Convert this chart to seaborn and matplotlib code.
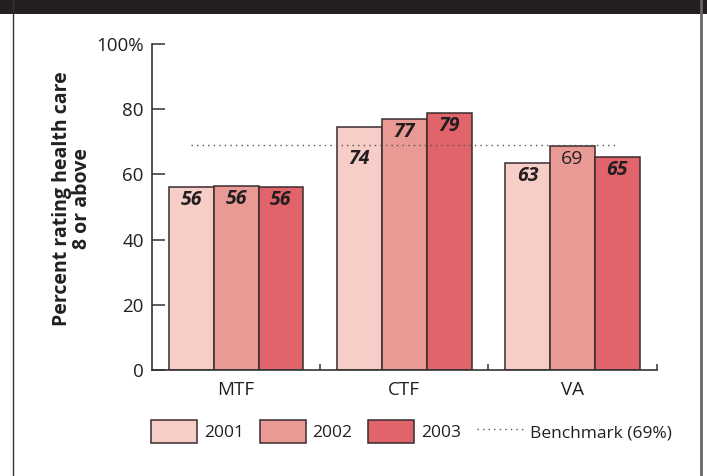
import pandas as pd
import matplotlib
matplotlib.use('Agg')
import matplotlib.pyplot as plt
from matplotlib.patches import Rectangle, Patch
from matplotlib.lines import Line2D
from matplotlib.ticker import FixedLocator
import seaborn as sns

# Datos
categorias = ['MTF', 'CTF', 'VA']
anios = ['2001', '2002', '2003']
valores_2001 = [56.1, 74.4, 63.4]
valores_2002 = [56.4, 76.9, 68.8]
valores_2003 = [56.1, 78.7, 65.4]
# etiqueta en negrita/cursiva = diferencia significativa frente al benchmark
signif_2001 = [True, True, True]
signif_2002 = [True, True, False]
signif_2003 = [True, True, True]
benchmark = 69
y_ticks = [0, 20, 40, 60, 80, 100]
y_tick_labels = ['0', '20', '40', '60', '80', '100%']

colores = ['#F6CEC7', '#EA9A95', '#E0646A']
borde = '#3a2c2e'
texto = '#231f20'

df = pd.DataFrame({
    'categoria': categorias * 3,
    'anio': [a for a in anios for _ in categorias],
    'valor': valores_2001 + valores_2002 + valores_2003,
    'signif': signif_2001 + signif_2002 + signif_2003,
})

sns.set_theme(style='white')
plt.rcParams['font.family'] = ['Open Sans', 'DejaVu Sans']
plt.rcParams['text.color'] = texto

fig = plt.figure(figsize=(7.07, 4.76), dpi=100)
ax_w = (656.6 - 152) / 707
ax = fig.add_axes([152 / 707, 1 - 370 / 476, ax_w, (370 - 44) / 476])

sns.barplot(data=df, x='categoria', y='valor', hue='anio', order=categorias,
            hue_order=anios, palette=colores, edgecolor=borde, linewidth=1.1,
            width=0.8, saturation=1, legend=False, ax=ax)

ax.set_xlim(-0.5, len(categorias) - 0.5)
ax.set_ylim(0, 100)

# linea de referencia punteada
ax.hlines(benchmark, -0.27, 2.26, colors='#555555', linestyles=(0, (1, 3)),
          linewidth=1.0, zorder=3)

# etiquetas de valor dentro de las barras
for i, cont in enumerate(ax.containers):
    sub = df[df['anio'] == anios[i]].reset_index(drop=True)
    for bar, (_, fila) in zip(cont, sub.iterrows()):
        h = bar.get_height()
        y = h - 4
        if abs(y - benchmark) < 2.5:
            y = benchmark - 4.2
        peso = 'bold' if fila['signif'] else 'normal'
        estilo = 'italic' if fila['signif'] else 'normal'
        ax.text(bar.get_x() + bar.get_width() / 2, y, f"{round(h)}",
                ha='center', va='center', fontsize=14, fontweight=peso,
                fontstyle=estilo, color=texto, zorder=4)

# ejes
for lado in ['top', 'right']:
    ax.spines[lado].set_visible(False)
for lado in ['left', 'bottom']:
    ax.spines[lado].set_color('#333333')
    ax.spines[lado].set_linewidth(1.2)

ax.set_yticks(y_ticks)
ax.set_yticklabels(y_tick_labels)
ax.tick_params(axis='y', direction='in', length=9.5, width=1.1, color='#333333',
               pad=6, labelsize=13.5, labelcolor=texto, left=True)
ax.tick_params(axis='x', which='major', length=0, pad=8, labelsize=13.5,
               labelcolor=texto)
ax.xaxis.set_minor_locator(FixedLocator([0.5, 1.5, 2.5]))
ax.tick_params(axis='x', which='minor', direction='in', length=4.5, width=1.1,
               color='#333333', bottom=True)
ax.set_xlabel('')
ax.set_ylabel('Percent rating health care\n8 or above', fontsize=14,
              fontweight='bold', color=texto, linespacing=1.0)
ax.yaxis.set_label_coords((92 - 152) / 707 / ax_w, 0.525)

# leyenda
handles = [Patch(facecolor=c, edgecolor=borde, linewidth=1.1) for c in colores]
handles.append(Line2D([0], [0], color='#555555', linestyle=(0, (1, 3)), linewidth=1.0))
etiquetas = anios + [f'Benchmark ({benchmark}%)']
fig.legend(handles, etiquetas, loc='upper left', bbox_to_anchor=(151 / 707, 1 - 420 / 476),
           ncol=4, frameon=False, fontsize=12.5, handlelength=2.65, handleheight=1.65,
           handletextpad=0.4, columnspacing=0.9, borderpad=0, borderaxespad=0)

# marco: banda negra superior y lineas laterales
fig.patches.append(Rectangle((0, 1 - 13.5 / 476), 1, 13.5 / 476, transform=fig.transFigure,
                             facecolor='#231f20', edgecolor='none', zorder=0))
fig.add_artist(Line2D([13 / 707, 13 / 707], [0, 1], transform=fig.transFigure,
                      color='#333333', linewidth=1.0))
fig.add_artist(Line2D([701 / 707, 701 / 707], [0, 1], transform=fig.transFigure,
                      color='#666666', linewidth=2.0))

fig.savefig('out.png', dpi=100)
